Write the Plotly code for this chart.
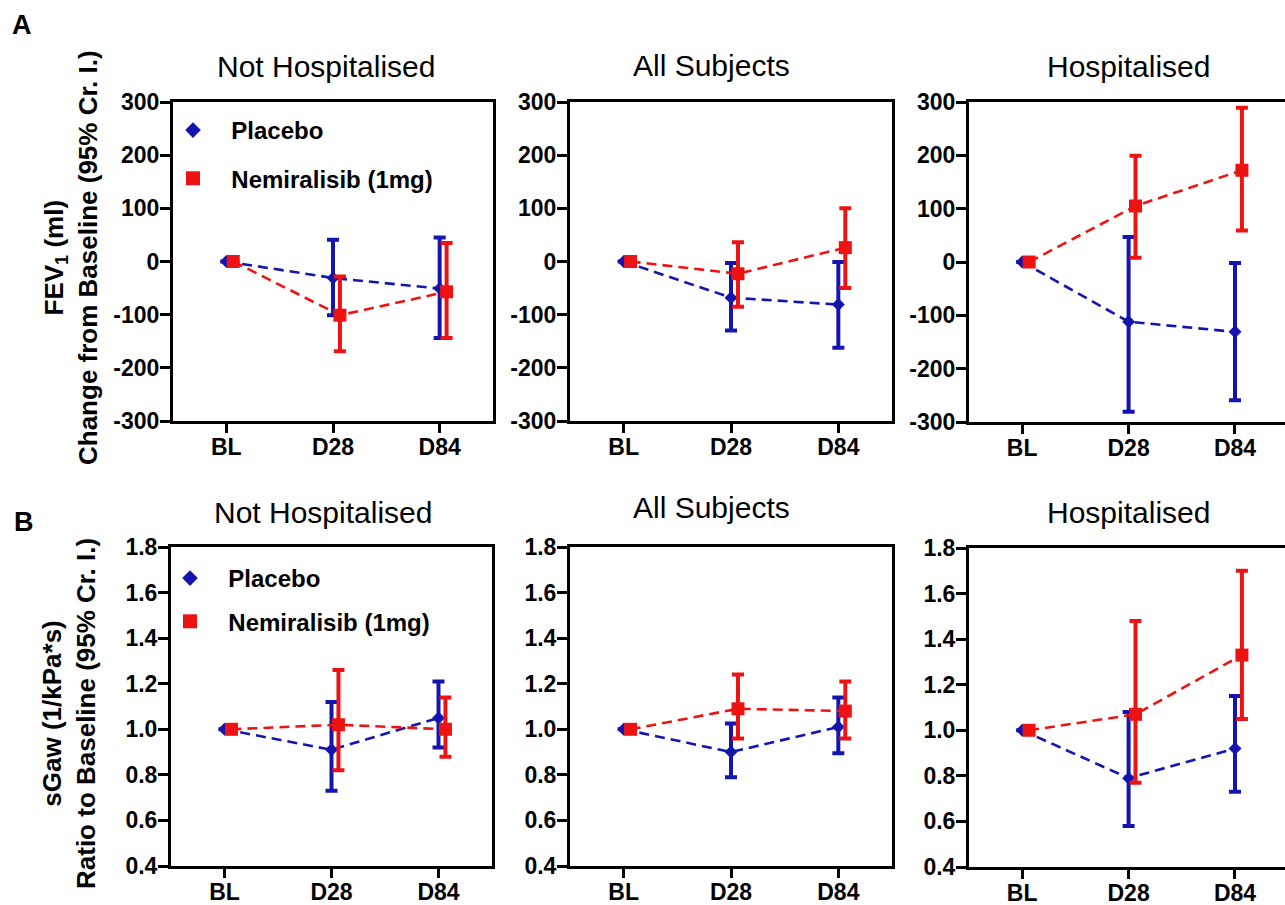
import plotly.graph_objects as go

# ---------------- data ----------------
categories = ["BL", "D28", "D84"]
panel_titles = ["Not Hospitalised", "All Subjects", "Hospitalised"]

# Row A: FEV1 change from baseline (ml)
fev_placebo_mean = {"Not Hospitalised": [0, -31, -51], "All Subjects": [0, -68, -81], "Hospitalised": [0, -112, -131]}
fev_placebo_upper = {"Not Hospitalised": [None, 41, 45], "All Subjects": [None, -3, -1], "Hospitalised": [None, 47, -2]}
fev_placebo_lower = {"Not Hospitalised": [None, -101, -144], "All Subjects": [None, -130, -162], "Hospitalised": [None, -281, -259]}

fev_nemi_mean = {"Not Hospitalised": [0, -101, -57], "All Subjects": [0, -23, 26], "Hospitalised": [0, 105, 172]}
fev_nemi_upper = {"Not Hospitalised": [None, -28, 35], "All Subjects": [None, 36, 100], "Hospitalised": [None, 199, 289]}
fev_nemi_lower = {"Not Hospitalised": [None, -169, -144], "All Subjects": [None, -85, -50], "Hospitalised": [None, 8, 59]}

# Row B: sGaw ratio to baseline
sgaw_placebo_mean = {"Not Hospitalised": [1.0, 0.91, 1.05], "All Subjects": [1.0, 0.90, 1.01], "Hospitalised": [1.0, 0.79, 0.92]}
sgaw_placebo_upper = {"Not Hospitalised": [None, 1.12, 1.21], "All Subjects": [None, 1.025, 1.14], "Hospitalised": [None, 1.08, 1.15]}
sgaw_placebo_lower = {"Not Hospitalised": [None, 0.73, 0.92], "All Subjects": [None, 0.79, 0.895], "Hospitalised": [None, 0.58, 0.73]}

sgaw_nemi_mean = {"Not Hospitalised": [1.0, 1.02, 1.0], "All Subjects": [1.0, 1.09, 1.08], "Hospitalised": [1.0, 1.07, 1.33]}
sgaw_nemi_upper = {"Not Hospitalised": [None, 1.26, 1.14], "All Subjects": [None, 1.24, 1.21], "Hospitalised": [None, 1.48, 1.70]}
sgaw_nemi_lower = {"Not Hospitalised": [None, 0.82, 0.88], "All Subjects": [None, 0.96, 0.96], "Hospitalised": [None, 0.77, 1.05]}

fev_ticks = [-300, -200, -100, 0, 100, 200, 300]
fev_ticklabels = ["-300", "-200", "-100", "0", "100", "200", "300"]
sgaw_ticks = [0.4, 0.6, 0.8, 1.0, 1.2, 1.4, 1.6, 1.8]
sgaw_ticklabels = ["0.4", "0.6", "0.8", "1.0", "1.2", "1.4", "1.6", "1.8"]

series_names = ["Placebo", "Nemiralisib (1mg)"]

# ---------------- style ----------------
W, H = 1285, 905
BLUE = "#1414AE"
RED = "#EE1313"
FONT = "Liberation Sans"
RED_OFFSET = 0.065
NB = "\u00a0\u00a0"

def px_x(p):
    return p / W

def px_y(p):
    return 1 - p / H

# panel pixel boxes (left, right, top, bottom)
boxes_A = [(173, 493, 102, 421), (570, 892, 102, 421), (969, 1285, 102, 422)]
boxes_B = [(171, 492, 547, 866), (570, 892, 547, 866), (969, 1285, 548, 867)]

fig = go.Figure()

def err(mean, bound, upper):
    out = []
    for m, b in zip(mean, bound):
        if b is None:
            out.append(None)
        else:
            out.append(b - m if upper else m - b)
    return out

def add_panel(idx, title, box, pm, pu, pl, nm, nu, nl, yticks, ylabels, yrange, legend_name, show_legend):
    ax = "" if idx == 1 else str(idx)
    xref = "x" + ax
    yref = "y" + ax
    xi = list(range(len(categories)))
    fig.add_trace(go.Scatter(
        x=xi, y=pm[title], xaxis=xref, yaxis=yref, mode="lines+markers",
        line=dict(color=BLUE, width=2.6, dash="10px,6px"),
        marker=dict(symbol="diamond", size=10, color=BLUE),
        error_y=dict(type="data", symmetric=False, array=err(pm[title], pu[title], True),
                     arrayminus=err(pm[title], pl[title], False), color=BLUE, thickness=4, width=6),
        showlegend=False, hoverinfo="skip"))
    fig.add_trace(go.Scatter(
        x=[v + RED_OFFSET for v in xi], y=nm[title], xaxis=xref, yaxis=yref, mode="lines+markers",
        line=dict(color=RED, width=2.6, dash="10px,6px"),
        marker=dict(symbol="square", size=13, color=RED),
        error_y=dict(type="data", symmetric=False, array=err(nm[title], nu[title], True),
                     arrayminus=err(nm[title], nl[title], False), color=RED, thickness=4, width=6),
        showlegend=False, hoverinfo="skip"))
    if show_legend:
        fig.add_trace(go.Scatter(x=[None], y=[None], xaxis=xref, yaxis=yref, mode="markers",
                                 marker=dict(symbol="diamond", size=12, color=BLUE),
                                 name=NB + series_names[0], legend=legend_name, legendgroup=legend_name + "p"))
        fig.add_trace(go.Scatter(x=[None], y=[None], xaxis=xref, yaxis=yref, mode="markers",
                                 marker=dict(symbol="square", size=14, color=RED),
                                 name=NB + series_names[1], legend=legend_name, legendgroup=legend_name + "n"))
    l, r, t, b = box
    last = (idx % 3 == 0)
    xr = [-0.5, 2.47] if last else [-0.5, 2.5]
    fig.layout["xaxis" + ax] = dict(
        domain=[px_x(l), px_x(r)], anchor=yref, range=xr, automargin=False,
        tickmode="array", tickvals=xi, ticktext=categories,
        showline=True, linecolor="black", linewidth=3, mirror=True,
        ticks="outside", ticklen=9, tickwidth=3, tickcolor="black", ticklabelstandoff=-6,
        showgrid=False, zeroline=False, fixedrange=True,
        tickfont=dict(family=FONT, size=23, color="black", weight="bold"))
    fig.layout["yaxis" + ax] = dict(
        domain=[px_y(b), px_y(t)], anchor=xref, range=yrange, automargin=False,
        tickmode="array", tickvals=yticks, ticktext=ylabels,
        showline=True, linecolor="black", linewidth=3, mirror=(not last),
        ticks="outside", ticklen=10, tickwidth=3, tickcolor="black", ticklabelstandoff=-4,
        showgrid=False, zeroline=False, fixedrange=True,
        tickfont=dict(family=FONT, size=23, color="black", weight="bold"))

for i, title in enumerate(panel_titles):
    add_panel(i + 1, title, boxes_A[i], fev_placebo_mean, fev_placebo_upper, fev_placebo_lower,
              fev_nemi_mean, fev_nemi_upper, fev_nemi_lower, fev_ticks, fev_ticklabels, [-300, 300],
              "legend", i == 0)
for i, title in enumerate(panel_titles):
    add_panel(i + 4, title, boxes_B[i], sgaw_placebo_mean, sgaw_placebo_upper, sgaw_placebo_lower,
              sgaw_nemi_mean, sgaw_nemi_upper, sgaw_nemi_lower, sgaw_ticks, sgaw_ticklabels, [0.4, 1.8],
              "legend2", i == 0)

annotations = []
title_pos_A = [(326, 67), (711, 65), (1128, 67)]
title_pos_B = [(323, 512), (711, 508), (1128, 512)]
for t, (x, y) in zip(panel_titles, title_pos_A):
    annotations.append(dict(text=t, x=px_x(x), y=px_y(y), xref="paper", yref="paper",
                            xanchor="center", yanchor="middle", showarrow=False,
                            font=dict(family=FONT, size=30, color="black")))
for t, (x, y) in zip(panel_titles, title_pos_B):
    annotations.append(dict(text=t, x=px_x(x), y=px_y(y), xref="paper", yref="paper",
                            xanchor="center", yanchor="middle", showarrow=False,
                            font=dict(family=FONT, size=30, color="black")))
annotations.append(dict(text="A", x=px_x(22), y=px_y(25), xref="paper", yref="paper",
                        xanchor="center", yanchor="middle", showarrow=False,
                        font=dict(family=FONT, size=27, color="black", weight="bold")))
annotations.append(dict(text="B", x=px_x(24), y=px_y(522), xref="paper", yref="paper",
                        xanchor="center", yanchor="middle", showarrow=False,
                        font=dict(family=FONT, size=27, color="black", weight="bold")))
annotations.append(dict(text="FEV<sub>1</sub> (ml)<br>Change from Baseline (95% Cr. I.)",
                        x=px_x(71), y=px_y(258), xref="paper", yref="paper", textangle=-90,
                        xanchor="center", yanchor="middle", showarrow=False,
                        font=dict(family=FONT, size=26, color="black", weight="bold")))
annotations.append(dict(text="sGaw (1/kPa*s)<br>Ratio to Baseline (95% Cr. I.)",
                        x=px_x(69), y=px_y(714), xref="paper", yref="paper", textangle=-90,
                        xanchor="center", yanchor="middle", showarrow=False,
                        font=dict(family=FONT, size=26, color="black", weight="bold")))

def legend_style(gap):
    return dict(bgcolor="rgba(0,0,0,0)", borderwidth=0, traceorder="grouped",
                tracegroupgap=gap, itemwidth=40, xanchor="left", yanchor="top",
                font=dict(family=FONT, size=24, color="black", weight="bold"))

fig.update_layout(
    width=W, height=H, margin=dict(l=0, r=0, t=0, b=0, autoexpand=False),
    paper_bgcolor="white", plot_bgcolor="white",
    annotations=annotations,
    legend=dict(x=px_x(168), y=px_y(108), **legend_style(14)),
    legend2=dict(x=px_x(165), y=px_y(556), **legend_style(9)),
)

fig.write_html(
    "out.html",
    config={"displayModeBar": False},
    post_script="document.body.style.margin='0px';"
                "document.body.style.overflow='hidden';"
                "document.documentElement.style.overflow='hidden';",
)
